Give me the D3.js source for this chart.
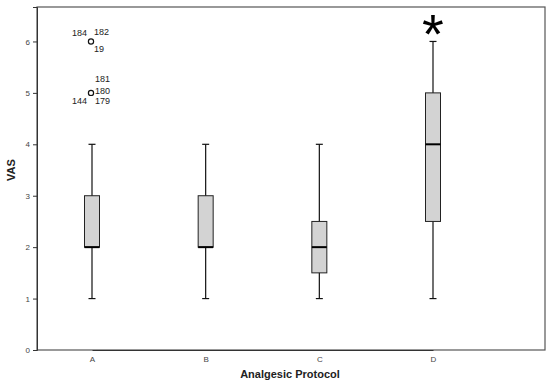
<!DOCTYPE html>
<html>
<head>
<meta charset="utf-8">
<script src="https://d3js.org/d3.v7.min.js"></script>
<style>
  body { margin: 0; background: #fff; }
  text { font-family: "Liberation Sans", Arial, sans-serif; }
</style>
</head>
<body>
<div id="chart"></div>
<script>
const categories = ["A", "B", "C", "D"];
const mins = [1, 1, 1, 1];
const q1s = [2, 2, 1.5, 2.5];
const medians = [2, 2, 2, 4];
const q3s = [3, 3, 2.5, 5];
const maxs = [4, 4, 4, 6];
const yTicks = [0, 1, 2, 3, 4, 5, 6];
// outliers for group A: value and case labels
const outlierValues = [6, 5];
const outlierLabels = [["184", "182", "19"], ["181", "180", "144", "179"]];
const starCategory = "D";

const width = 550, height = 386;
const frame = { left: 37, top: 7, right: 545, bottom: 350 };

const svg = d3.select("#chart").append("svg")
  .attr("width", width)
  .attr("height", height);

const y = d3.scaleLinear().domain([0, 6.67]).range([frame.bottom, frame.top]);
const x = d3.scalePoint().domain(categories).range([92, 433]);

// frame
svg.append("rect")
  .attr("x", frame.left)
  .attr("y", frame.top)
  .attr("width", frame.right - frame.left)
  .attr("height", frame.bottom - frame.top)
  .attr("fill", "none")
  .attr("stroke", "#555")
  .attr("stroke-width", 1.2);

// y axis
const yAxis = svg.append("g")
  .attr("transform", `translate(${frame.left},0)`)
  .call(d3.axisLeft(y).tickValues(yTicks).tickFormat(d3.format("d")).tickSize(4).tickPadding(3));
yAxis.select(".domain").attr("stroke", "#333");
yAxis.selectAll(".tick line").attr("stroke", "#333");
yAxis.selectAll(".tick text").attr("fill", "#444").style("font-size", "8px");

// x axis labels
const xAxis = svg.append("g")
  .attr("transform", `translate(0,${frame.bottom})`)
  .call(d3.axisBottom(x).tickSize(0).tickPadding(6));
xAxis.select(".domain").attr("stroke", "#333");
xAxis.selectAll(".tick text").attr("fill", "#444").style("font-size", "8px");

// axis titles
svg.append("text")
  .attr("transform", "translate(15,170) rotate(-90)")
  .attr("text-anchor", "middle")
  .style("font-size", "11px")
  .style("font-weight", "bold")
  .attr("fill", "#222")
  .text("VAS");

svg.append("text")
  .attr("x", 290)
  .attr("y", 378)
  .attr("text-anchor", "middle")
  .style("font-size", "11px")
  .style("font-weight", "bold")
  .attr("fill", "#222")
  .text("Analgesic Protocol");

// boxes
const boxWidth = 15, capWidth = 7;
const groups = categories.map((c, i) => ({
  cat: c, min: mins[i], q1: q1s[i], med: medians[i], q3: q3s[i], max: maxs[i],
}));

const g = svg.selectAll("g.box").data(groups).enter().append("g").attr("class", "box");

g.append("line")
  .attr("x1", (d) => x(d.cat)).attr("x2", (d) => x(d.cat))
  .attr("y1", (d) => y(d.min)).attr("y2", (d) => y(d.max))
  .attr("stroke", "#111").attr("stroke-width", 1.2);

g.selectAll("line.cap")
  .data((d) => [d.min, d.max].map((v) => ({ cat: d.cat, v })))
  .enter().append("line")
  .attr("class", "cap")
  .attr("x1", (d) => x(d.cat) - capWidth / 2).attr("x2", (d) => x(d.cat) + capWidth / 2)
  .attr("y1", (d) => y(d.v)).attr("y2", (d) => y(d.v))
  .attr("stroke", "#111").attr("stroke-width", 1.2);

g.append("rect")
  .attr("x", (d) => x(d.cat) - boxWidth / 2)
  .attr("y", (d) => y(d.q3))
  .attr("width", boxWidth)
  .attr("height", (d) => y(d.q1) - y(d.q3))
  .attr("fill", "#d3d3d3")
  .attr("stroke", "#222")
  .attr("stroke-width", 1);

g.append("line")
  .attr("x1", (d) => x(d.cat) - boxWidth / 2).attr("x2", (d) => x(d.cat) + boxWidth / 2)
  .attr("y1", (d) => y(d.med)).attr("y2", (d) => y(d.med))
  .attr("stroke", "#000").attr("stroke-width", 2);

// outliers for A
const ax = x("A");
outlierValues.forEach((v) => {
  svg.append("circle")
    .attr("cx", ax - 1).attr("cy", y(v))
    .attr("r", 2.6)
    .attr("fill", "none")
    .attr("stroke", "#111")
    .attr("stroke-width", 1.2);
});

const labelStyle = (sel) => sel.style("font-size", "9px").attr("fill", "#222");
// case ids at 6
const l6 = outlierLabels[0];
labelStyle(svg.append("text").attr("x", ax - 5).attr("y", y(6) - 5).attr("text-anchor", "end").text(l6[0]));
labelStyle(svg.append("text").attr("x", ax + 2).attr("y", y(6) - 6).text(l6[1]));
labelStyle(svg.append("text").attr("x", ax + 2).attr("y", y(6) + 11).text(l6[2]));
// case ids at 5
const l5 = outlierLabels[1];
labelStyle(svg.append("text").attr("x", ax + 3).attr("y", y(5) - 11).text(l5[0]));
labelStyle(svg.append("text").attr("x", ax + 3).attr("y", y(5) + 1).text(l5[1]));
labelStyle(svg.append("text").attr("x", ax - 5).attr("y", y(5) + 11).attr("text-anchor", "end").text(l5[2]));
labelStyle(svg.append("text").attr("x", ax + 3).attr("y", y(5) + 11).text(l5[3]));

// significance star
svg.append("text")
  .attr("x", x(starCategory))
  .attr("y", y(6) + 12)
  .attr("text-anchor", "middle")
  .style("font-size", "56px")
  .attr("fill", "#000")
  .text("*");
</script>
</body>
</html>
